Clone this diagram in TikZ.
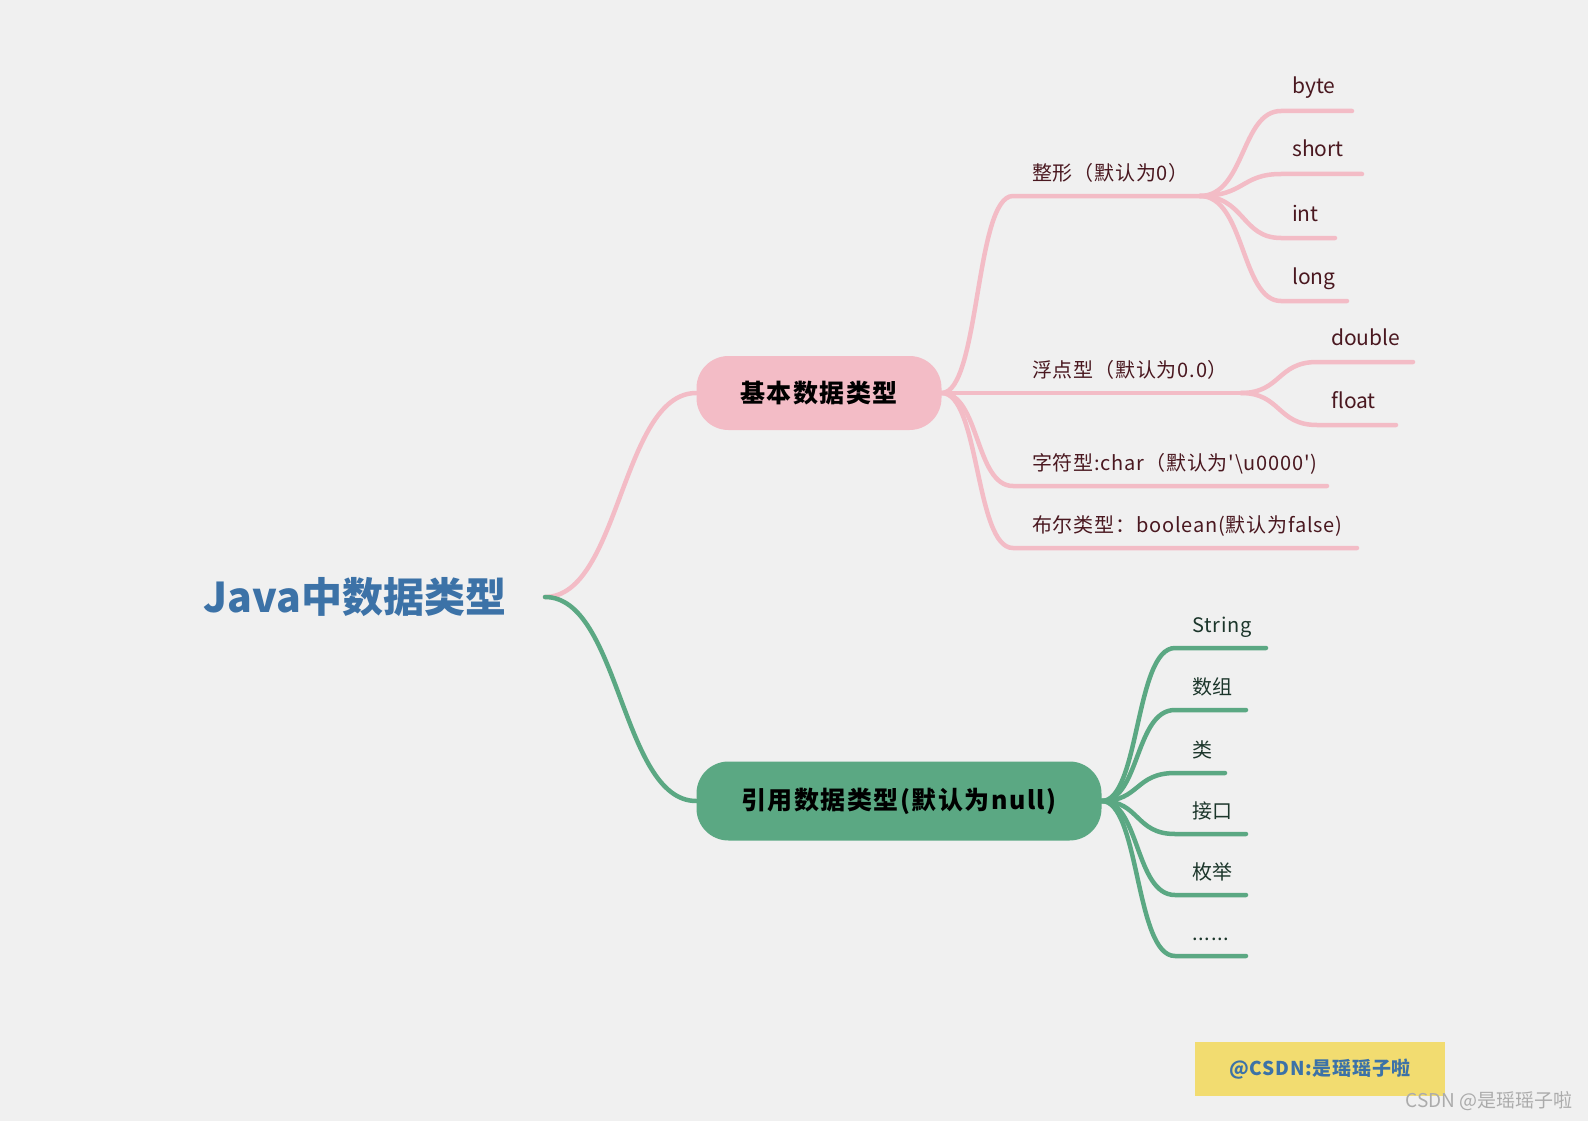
\documentclass[tikz,border=0pt]{standalone}
\usepackage{fontspec}
\newfontfamily\cjk{Noto Sans CJK SC}
\usetikzlibrary{positioning}

\definecolor{bgGray}{HTML}{F0F0F0}
\definecolor{pinkLine}{HTML}{F3BCC6}
\definecolor{greenLine}{HTML}{5BA883}
\definecolor{javaBlue}{HTML}{3C72A7}
\definecolor{pinkText}{HTML}{4A1820}
\definecolor{greenText}{HTML}{1C362B}
\definecolor{noteYellow}{HTML}{F2DC70}
\definecolor{markGray}{HTML}{ABABAB}

\newcommand{\moredots}{......}

\tikzset{
  pinkline/.style={draw=pinkLine, line width=4.5pt, line cap=round},
  greenline/.style={draw=greenLine, line width=4.5pt, line cap=round},
  pinklbl/.style={font=\cjk\fontsize{20}{24}\selectfont\addfontfeatures{LetterSpace=4}, text=pinkText, inner sep=0pt, anchor=base west},
  greenlbl/.style={font=\cjk\fontsize{20}{24}\selectfont\addfontfeatures{LetterSpace=4}, text=greenText, inner sep=0pt, anchor=base west},
  topic/.style={rounded corners=32pt, inner sep=0pt, font=\cjk\bfseries\fontsize{25}{30}\selectfont\addfontfeatures{LetterSpace=6}, text=black},
}

\begin{document}
\begin{tikzpicture}[x=1pt,y=-1pt]
  \fill[bgGray] (0,0) rectangle (1588,1121);
  \useasboundingbox (0,0) rectangle (1588,1121);

  % root and the two topics
  \node[font=\cjk\bfseries\fontsize{41}{48}\selectfont, text=javaBlue, anchor=west] (java) at (200,597) {Java中数据类型};
  \coordinate (javaR) at (545,597);
  \node[topic, fill=pinkLine, minimum width=245pt, minimum height=74pt] (basic) at (819,393) {基本数据类型};
  \node[topic, fill=greenLine, minimum width=405pt, minimum height=79pt] (ref) at (899,801) {引用数据类型(默认为null)};

  \draw[pinkline] (javaR) .. controls +(75,0) and +(-75,0) .. (basic.west);
  \draw[greenline] (javaR) .. controls +(75,0) and +(-75,0) .. (ref.west);

  % basic types
  \foreach \y/\x/\t [count=\i] in {196/1200/{整形（默认为0）}, 393/1241/{浮点型（默认为0.0）},
      486/1327/{字符型:char（默认为'\textbackslash u0000')}, 548/1357/{布尔类型：boolean(默认为false)}} {
    \coordinate (bs\i) at (1013,\y);
    \coordinate (be\i) at (\x,\y);
    \draw[pinkline] (basic.east) .. controls +(38,0) and +(-38,0) .. (bs\i) -- (be\i);
    \node[pinklbl] (bl\i) at (1032,\y-16) {\t};
  }

  % integer kinds
  \foreach \y/\x/\t [count=\i] in {111/1352/byte, 174/1362/short, 238/1335/int, 301/1347/long} {
    \coordinate (is\i) at (1281,\y);
    \coordinate (ie\i) at (\x,\y);
    \draw[pinkline] (be1) .. controls +(45,0) and +(-40,0) .. (is\i) -- (ie\i);
    \node[pinklbl, font=\cjk\fontsize{21}{24}\selectfont] (il\i) at (1292,\y-17) {\t};
  }

  % floating kinds
  \foreach \y/\x/\t [count=\i] in {362/1413/double, 425/1396/float} {
    \coordinate (fs\i) at (1317,\y);
    \coordinate (fe\i) at (\x,\y);
    \draw[pinkline] (be2) .. controls +(40,0) and +(-40,0) .. (fs\i) -- (fe\i);
    \node[pinklbl, font=\cjk\fontsize{21}{24}\selectfont] (fl\i) at (1331,\y-17) {\t};
  }

  % reference types
  \foreach \y/\x/\t [count=\i] in {648/1266/String, 710/1246/数组, 773/1225/类,
      834/1246/接口, 895/1246/枚举, 956/1246/\moredots} {
    \coordinate (rs\i) at (1175,\y);
    \coordinate (re\i) at (\x,\y);
    \draw[greenline] (ref.east) .. controls +(38,0) and +(-40,0) .. (rs\i) -- (re\i);
    \node[greenlbl] (rl\i) at (1192,\y-16) {\t};
  }

  % watermarks
  \node[fill=noteYellow, minimum width=250pt, minimum height=54pt, inner sep=0pt,
    font=\cjk\bfseries\fontsize{19}{22}\selectfont\addfontfeatures{LetterSpace=4}, text=javaBlue] (note) at (1320,1069) {@CSDN:是瑶瑶子啦};
  \node[font=\cjk\fontsize{19}{22}\selectfont, text=markGray, anchor=east, inner sep=0pt] (mark) at (1573,1101) {CSDN @是瑶瑶子啦};
\end{tikzpicture}
\end{document}
